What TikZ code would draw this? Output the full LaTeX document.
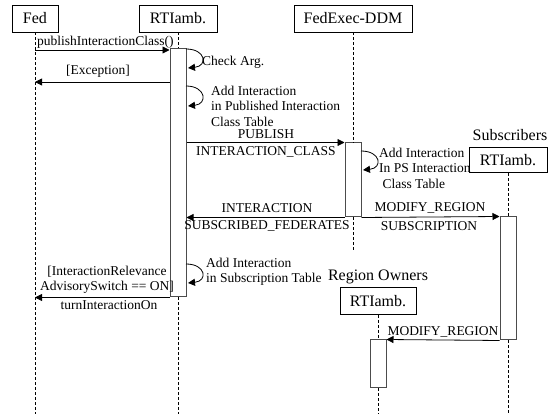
\documentclass[tikz,border=0pt]{standalone}
\usepackage{fontspec}
\setmainfont{Liberation Serif}
\usetikzlibrary{arrows.meta}

\tikzset{
  obj/.style={draw, line width=0.8pt, minimum height=27pt, inner sep=0pt, font=\fontsize{16}{18}\selectfont},
  title/.style={inner sep=0pt, font=\fontsize{16}{18}\selectfont},
  bar/.style={draw=black!70, fill=white, line width=1pt, minimum width=16pt, inner sep=0pt},
  life/.style={line width=0.7pt, dash pattern=on 3pt off 2pt},
  msg/.style={line width=0.8pt, -{Triangle[length=7pt,width=7pt]}},
  lbl/.style={inner sep=0pt, align=left, font=\fontsize{13.5}{15.5}\selectfont},
}

\begin{document}
\begin{tikzpicture}[x=1pt, y=-1pt]
  \useasboundingbox (0,0) rectangle (558,414);
  \coordinate (Z) at (0,414);

  \node[obj, minimum width=46pt] (A) at (35,18.5) {Fed};
  \node[obj, minimum width=78pt] (B) at (178,18.5) {RTIamb.};
  \node[obj, minimum width=118pt] (C) at (353,18.5) {FedExec-DDM};
  \node[obj, minimum width=78pt, minimum height=25pt] (D) at (508,160) {RTIamb.};
  \node[obj, minimum width=76pt] (E) at (378,301) {RTIamb.};

  \node[title] (D0) at (510,135) {Subscribers};
  \node[title] (E0) at (378,277) {Region Owners};

  \node[bar, minimum height=248pt] (B1) at (178,173) {};
  \node[bar, minimum height=74pt] (C1) at (353,180) {};
  \node[bar, minimum height=123pt] (D1) at (508,278.5) {};
  \node[bar, minimum height=48pt] (E1) at (378,364) {};

  \draw[life] (A) -- (A |- Z);
  \draw[life] (B) -- (B1);
  \draw[life] (B1) -- (B1 |- Z);
  \coordinate (C2) at (353,252);
  \draw[life] (C) -- (C1);
  \draw[life] (C1) -- (C2);
  \draw[life] (D) -- (D1);
  \draw[life] (D1) -- (D1 |- Z);
  \draw[life] (E) -- (E1);
  \draw[life] (E1) -- (E1 |- Z);

  \coordinate (a1) at (35,50);
  \coordinate (a2) at (35,82);
  \draw[msg] (a1) -- (a1 -| B1.west);
  \node[lbl, anchor=base west] (m1) at (37,46) {publishInteractionClass()};
  \draw[msg] (a2 -| B1.west) -- (a2);
  \node[lbl] (m2) at (98,71) {[Exception]};

  \coordinate (L1) at (186,49);
  \coordinate (L2) at (188,68);
  \draw[msg] (L1) .. controls +(20,0) and +(20,-2) .. (L2);
  \node[lbl, anchor=west] (m3) at (202,62) {Check Arg.};

  \coordinate (L3) at (186,86);
  \coordinate (L4) at (188,106);
  \draw[msg] (L3) .. controls +(20,0) and +(20,-2) .. (L4);
  \node[lbl, anchor=west] (m4) at (211,106) {Add Interaction\\in Published Interaction\\Class Table};

  \draw[msg] (B1.east |- C1.north) -- (C1.north west);
  \node[lbl] (m5) at (266,134) {PUBLISH};
  \node[lbl] (m6) at (266,152) {INTERACTION\_CLASS};

  \coordinate (L5) at (361,151);
  \coordinate (L6) at (363,170);
  \draw[msg] (L5) .. controls +(20,0) and +(20,-2) .. (L6);
  \node[lbl, anchor=west] (m7) at (379,168) {Add Interaction\\In PS Interaction\\\ Class Table};

  \draw[msg] (C1.south west) -- (B1.east |- C1.south);
  \node[lbl] (m8) at (267,208) {INTERACTION};
  \node[lbl] (m9) at (267,226) {SUBSCRIBED\_FEDERATES};

  \draw[msg] (C1.south east) -- (D1.north west);
  \node[lbl] (m10) at (430,208) {MODIFY\_REGION};
  \node[lbl] (m11) at (429,226) {SUBSCRIPTION};

  \coordinate (L7) at (186,264);
  \coordinate (L8) at (188,283);
  \draw[msg] (L7) .. controls +(20,0) and +(20,-2) .. (L8);
  \node[lbl, anchor=west] (m12) at (206,272) {Add Interaction\\in Subscription Table};

  \draw[msg] (B1.south west) -- (A |- B1.south);
  \node[lbl, align=center] (m13) at (107,280) {[InteractionRelevance\\AdvisorySwitch == ON]};
  \node[lbl] (m14) at (109,305) {turnInteractionOn};

  \draw[msg] (D1.south west) -- (E1.north east);
  \node[lbl] (m15) at (443,332) {MODIFY\_REGION};
\end{tikzpicture}
\end{document}
